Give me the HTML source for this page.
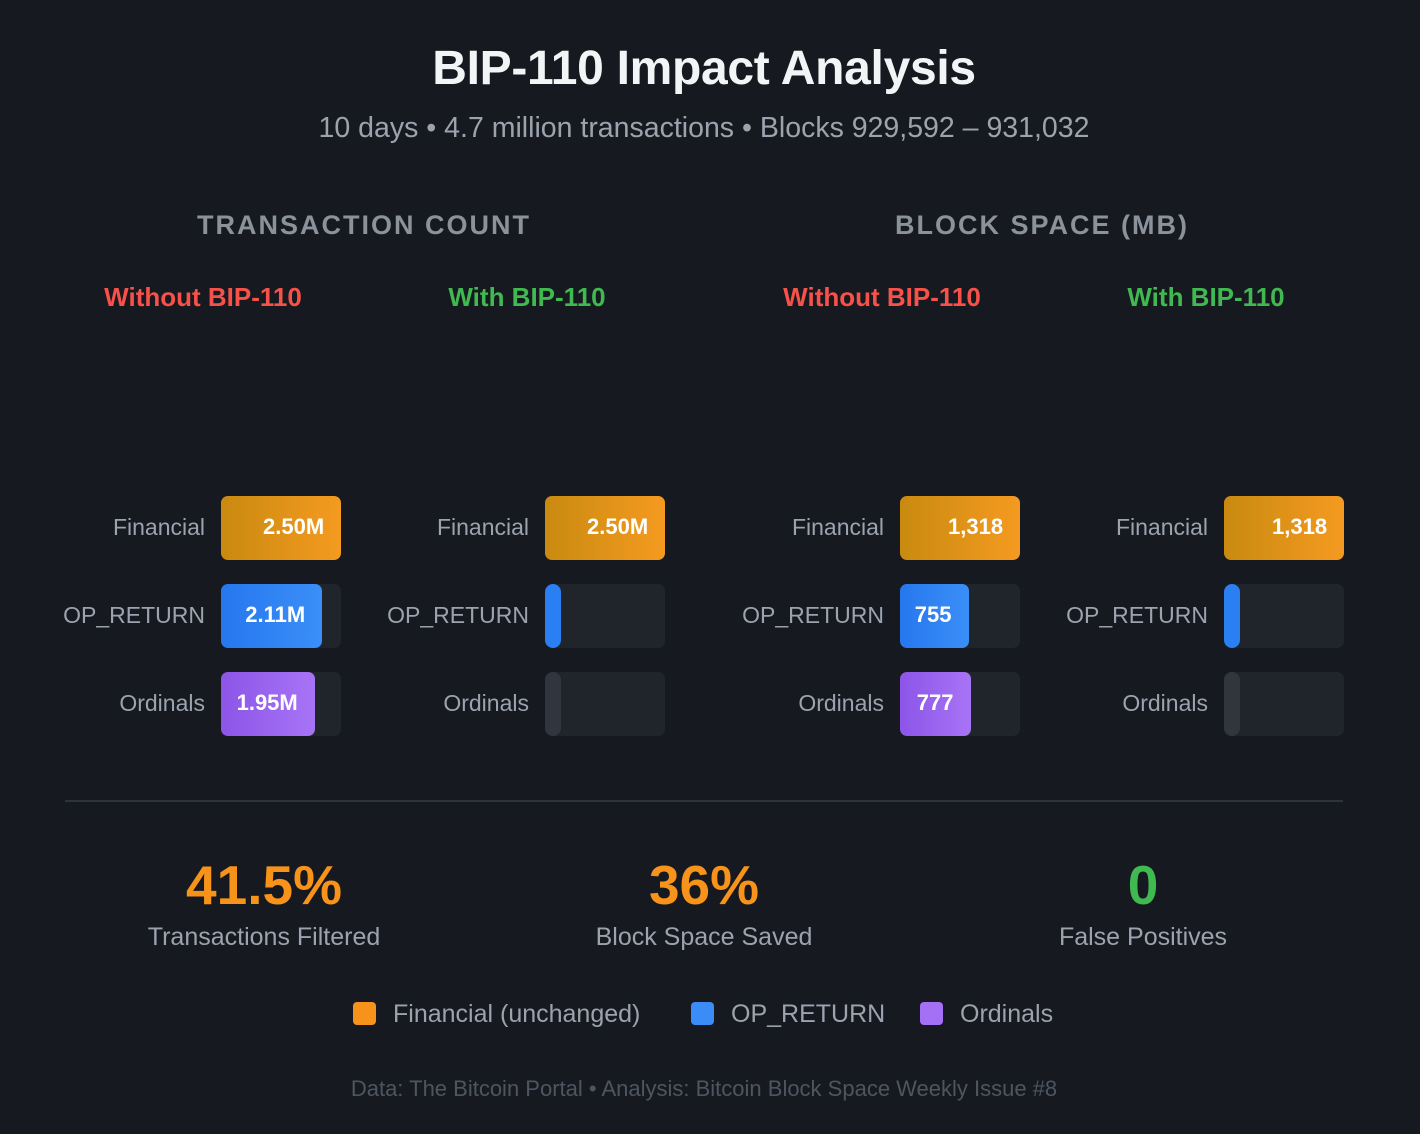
<!DOCTYPE html>
<html><head><meta charset="utf-8"><style>
body{margin:0;background:#161a20;width:1420px;height:1134px;overflow:hidden;font-family:"Liberation Sans",sans-serif;position:relative}
.a{position:absolute;white-space:nowrap}
.c{transform:translateX(-50%)}
</style></head><body>
<div class="a c" style="left:704px;top:41px;font-size:48px;font-weight:bold;color:#f3f4f6;letter-spacing:-0.3px">BIP-110 Impact Analysis</div>
<div class="a c" style="left:704px;top:112px;font-size:28.5px;color:#9ca3af">10 days • 4.7 million transactions • Blocks 929,592 – 931,032</div>
<div class="a c" style="left:364px;top:210px;font-size:27px;font-weight:bold;color:#8b929b;letter-spacing:2px">TRANSACTION COUNT</div>
<div class="a c" style="left:1042px;top:210px;font-size:27px;font-weight:bold;color:#8b929b;letter-spacing:2px">BLOCK SPACE (MB)</div>
<div id="panels"></div>
<div class="a" style="left:65px;top:800px;width:1278px;height:2px;background:#2d333b"></div>
<div class="a c" style="left:264px;top:853px;font-size:55px;font-weight:bold;color:#f7931a">41.5%</div>
<div class="a c" style="left:264px;top:923px;font-size:25px;color:#9ca3af">Transactions Filtered</div>
<div class="a c" style="left:704px;top:853px;font-size:55px;font-weight:bold;color:#f7931a">36%</div>
<div class="a c" style="left:704px;top:923px;font-size:25px;color:#9ca3af">Block Space Saved</div>
<div class="a c" style="left:1143px;top:853px;font-size:55px;font-weight:bold;color:#3fb950">0</div>
<div class="a c" style="left:1143px;top:923px;font-size:25px;color:#9ca3af">False Positives</div>
<div class="a" style="left:353px;top:1000px;font-size:25px;color:#9ca3af"><span style="display:inline-block;width:23px;height:23px;border-radius:4px;background:#f7931a;vertical-align:-3px;margin-right:17px"></span>Financial (unchanged)</div>
<div class="a" style="left:691px;top:1000px;font-size:25px;color:#9ca3af"><span style="display:inline-block;width:23px;height:23px;border-radius:4px;background:#3b8cf7;vertical-align:-3px;margin-right:17px"></span>OP_RETURN</div>
<div class="a" style="left:920px;top:1000px;font-size:25px;color:#9ca3af"><span style="display:inline-block;width:23px;height:23px;border-radius:4px;background:#a470f5;vertical-align:-3px;margin-right:17px"></span>Ordinals</div>
<div class="a c" style="left:704px;top:1076px;font-size:22px;color:#4e5560">Data: The Bitcoin Portal • Analysis: Bitcoin Block Space Weekly Issue #8</div>
<script>
const categories = ["Financial","OP_RETURN","Ordinals"];
const txWithout = [2.50, 2.11, 1.95];
const txWith = [2.50, 0, 0];
const txWithoutLabels = ["2.50M","2.11M","1.95M"];
const txWithLabels = ["2.50M","",""];
const mbWithout = [1318, 755, 777];
const mbWith = [1318, 0, 0];
const mbWithoutLabels = ["1,318","755","777"];
const mbWithLabels = ["1,318","",""];
const panelTitles = ["Without BIP-110","With BIP-110","Without BIP-110","With BIP-110"];

const grads=["linear-gradient(90deg,#c98a10,#f59a20)","linear-gradient(90deg,#2677ee,#3b8ff8)","linear-gradient(90deg,#8c55e8,#a874f6)"];
const minCol=["#2a7ff3","#2a7ff3","#30353e"];
const root=document.getElementById('panels');
const panels=[
 {x:221,vals:txWithout,labs:txWithoutLabels,max:2.5,t:0,name:'tx-without'},
 {x:545,vals:txWith,labs:txWithLabels,max:2.5,t:1,name:'tx-with'},
 {x:900,vals:mbWithout,labs:mbWithoutLabels,max:1318,t:2,name:'mb-without'},
 {x:1224,vals:mbWith,labs:mbWithLabels,max:1318,t:3,name:'mb-with'}];
const W=120,H=64,rows=[496,584,672];
panels.forEach(p=>{
  const t=document.createElement('div');
  
  
  t.className='a c';
  t.style.cssText=`left:${p.x-18}px;top:282px;font-size:26px;font-weight:bold;color:${p.t%2?'#3fb950':'#f85149'}`;
  t.textContent=panelTitles[p.t];
  root.appendChild(t);
  categories.forEach((c,i)=>{
    const y=rows[i];
    const l=document.createElement('div');
    
    
    l.className='a';
    l.style.cssText=`right:${1420-p.x+16}px;top:${y+18}px;font-size:23px;color:#9ca3af`;
    l.textContent=c;
    root.appendChild(l);
    const tr=document.createElement('div');
    
    
    tr.className='a';
    tr.style.cssText=`left:${p.x}px;top:${y}px;width:${W}px;height:${H}px;border-radius:7px;background:#20242b`;
    root.appendChild(tr);
    const v=p.vals[i];
    let w=v/p.max*W;
    const b=document.createElement('div');
    
    
    b.className='a';
    if(w<16){w=16;b.style.background=minCol[i];b.style.borderRadius='8px';}
    else{b.style.background=grads[i];b.style.borderRadius='7px';}
    b.style.left=p.x+'px';b.style.top=y+'px';b.style.width=w+'px';b.style.height=H+'px';
    root.appendChild(b);
    if(p.labs[i]){
      const s=document.createElement('div');
      
      
      s.className='a';
      s.style.cssText=`top:${y+18}px;font-size:22px;font-weight:bold;color:#fff`;
      s.textContent=p.labs[i];
      root.appendChild(s);
      const tw=s.offsetWidth;
      let left=p.x+w-17-tw;
      if(left<p.x+10) left=p.x+10;
      s.style.left=left+'px';
    }
  });
});
</script>
</body></html>
